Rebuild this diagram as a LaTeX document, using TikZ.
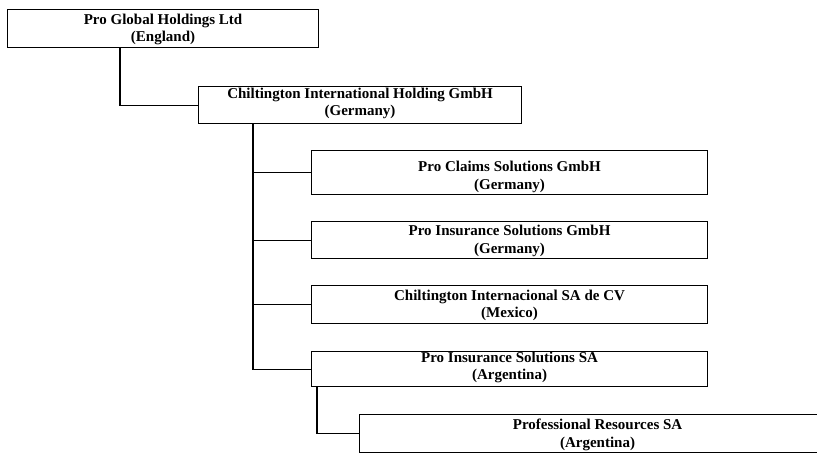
\documentclass[tikz,border=0pt]{standalone}
\usepackage{fontspec}
\setmainfont{Liberation Serif}
\usetikzlibrary{positioning}

\begin{document}
\begin{tikzpicture}[
    x=1pt, y=-1pt,
    box/.style={rectangle, draw, line width=1.1pt, anchor=north west, inner sep=0pt},
    lbl/.style={align=center, inner sep=0pt, font=\bfseries\fontsize{15}{17.5}\selectfont},
    link/.style={line width=1.1pt}
]
\useasboundingbox (0,0) rectangle (817,455);
\clip (0,0) rectangle (817,455);

% companies
\node[box, minimum width=311pt, minimum height=38pt] (pgh) at (7,9) {};
\node[box, minimum width=323pt, minimum height=37pt] (cih) at (198,86) {};
\node[box, minimum width=396pt, minimum height=44pt] (pcs) at (311,150) {};
\node[box, minimum width=396pt, minimum height=37pt] (pisg) at (311,221) {};
\node[box, minimum width=396pt, minimum height=38pt] (cimx) at (311,285) {};
\node[box, minimum width=396pt, minimum height=35pt] (pisa) at (311,351) {};
\node[box, minimum width=476pt, minimum height=38pt] (prsa) at (359,414) {};

% names
\node[lbl, above=3pt of pgh.south] {Pro Global Holdings Ltd\\(England)};
\node[lbl, above=5pt of cih.south] {Chiltington International Holding GmbH\\(Germany)};
\node[lbl, above=2.5pt of pcs.south] {Pro Claims Solutions GmbH\\(Germany)};
\node[lbl, above=2.5pt of pisg.south] {Pro Insurance Solutions GmbH\\(Germany)};
\node[lbl, above=3pt of cimx.south] {Chiltington Internacional SA de CV\\(Mexico)};
\node[lbl, above=4pt of pisa.south] {Pro Insurance Solutions SA\\(Argentina)};
\node[lbl, above=2.5pt of prsa.south] {Professional Resources SA\\(Argentina)};

% ownership lines
\coordinate (d1) at (120,0);
\coordinate (d2) at (253,0);
\coordinate (d3) at (317,0);
\draw[link] (d1 |- pgh.south) |- (cih.west);
\draw[link] (d2 |- cih.south) |- (pcs.west);
\draw[link] (d2 |- cih.south) |- (pisg.west);
\draw[link] (d2 |- cih.south) |- (cimx.west);
\draw[link] (d2 |- cih.south) |- (pisa.west);
\draw[link] (d3 |- pisa.south) |- (prsa.west);
\end{tikzpicture}
\end{document}
